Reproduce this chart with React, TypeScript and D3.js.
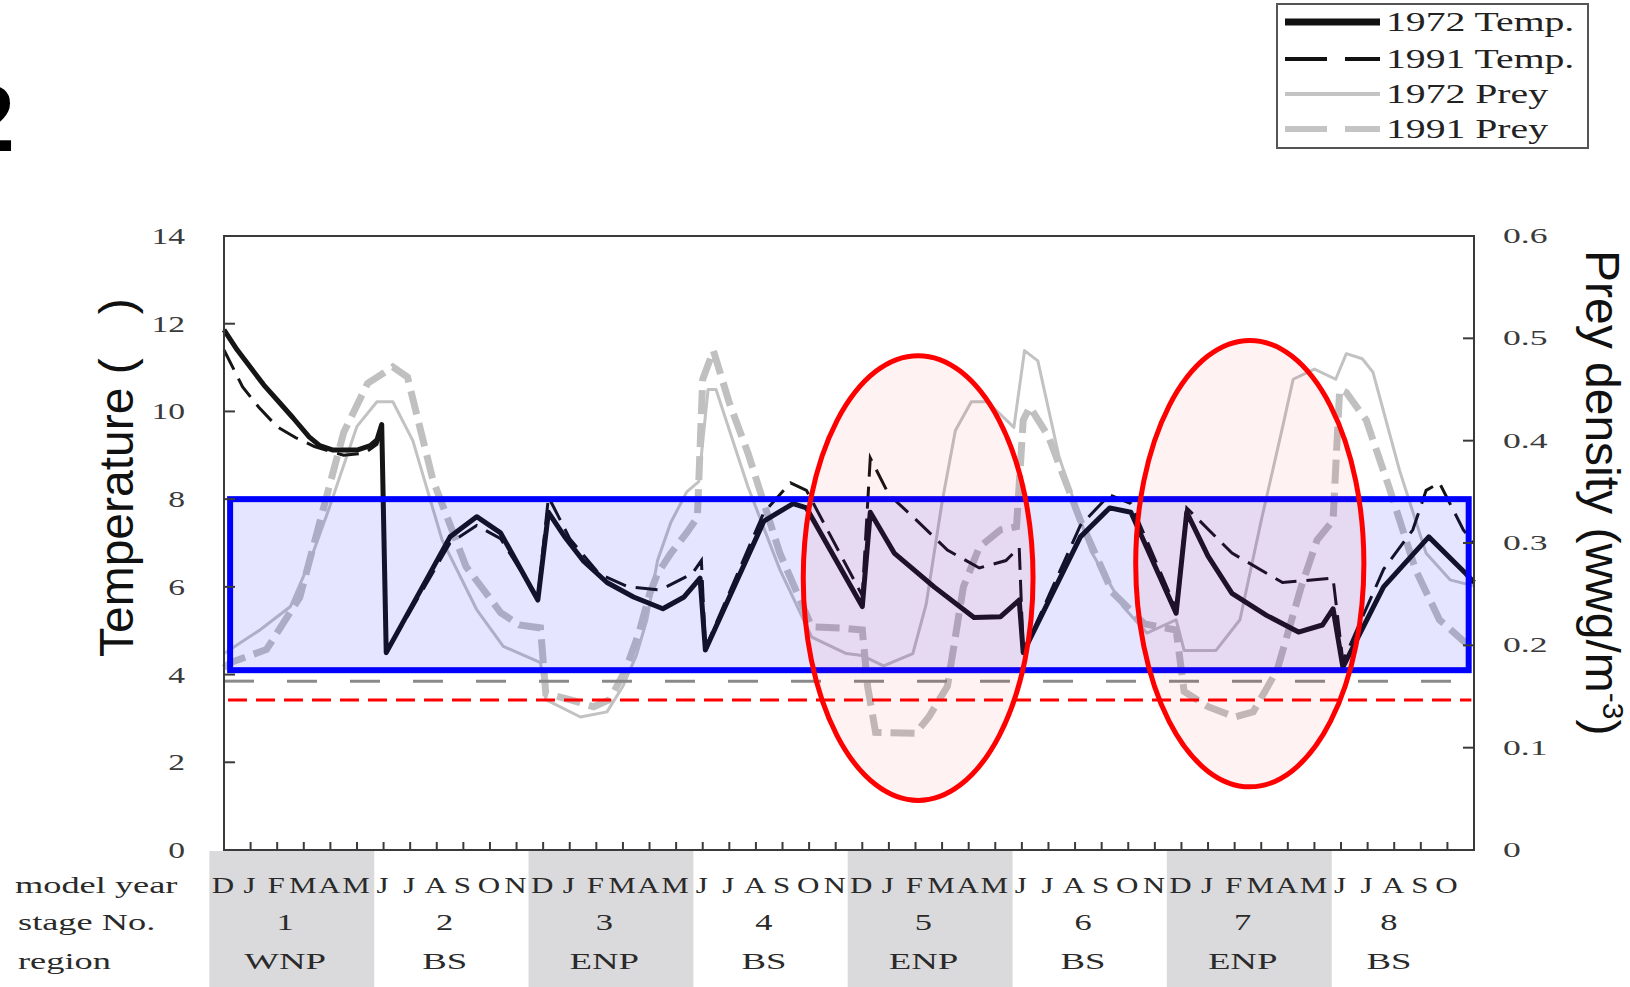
import React from 'react';
import * as d3 from 'd3';

// model months (x = month index from the first December)
const monthLabels = 'D J F M A M J J A S O N D J F M A M J J A S O N D J F M A M J J A S O N D J F M A M J J A S O'.split(' ');
const stageNumbers = ['1', '2', '3', '4', '5', '6', '7', '8'];
const stageRegions = ['WNP', 'BS', 'ENP', 'BS', 'ENP', 'BS', 'ENP', 'BS'];
const stageStart = [0, 6, 12, 18, 24, 30, 36, 42];
const stageLength = [6, 6, 6, 6, 6, 6, 6, 5];

const tempTicks = [0, 2, 4, 6, 8, 10, 12, 14];
const preyTicks = [0, 0.1, 0.2, 0.3, 0.4, 0.5, 0.6];

// [month, temperature °C]
const temp1972: [number, number][] = [
  [0, 11.86], [0.5, 11.4], [1, 11.0], [1.5, 10.6], [2, 10.26], [2.6, 9.85], [3.2, 9.42], [3.6, 9.22],
  [4.1, 9.12], [5, 9.12], [5.5, 9.22], [5.75, 9.35], [5.93, 9.7], [6.1, 4.5], [8.5, 7.14], [9.5, 7.6],
  [10.4, 7.23], [11.8, 5.7], [12.2, 7.7], [12.8, 7.15], [13.5, 6.6], [14.4, 6.1], [15.4, 5.77], [16.5, 5.5],
  [17.3, 5.77], [17.9, 6.2], [18.1, 4.56], [20.3, 7.5], [21.4, 7.9], [21.9, 7.8], [24.0, 5.55], [24.3, 7.7],
  [25.2, 6.77], [26.7, 6.0], [28.2, 5.3], [29.2, 5.32], [29.9, 5.7], [30.05, 4.5], [32.2, 7.14], [33.3, 7.8],
  [34.1, 7.7], [35.8, 5.4], [36.2, 7.7], [37.0, 6.7], [37.9, 5.85], [39.2, 5.35], [40.4, 4.97], [41.3, 5.13],
  [41.7, 5.5], [42.07, 4.17], [43.6, 6.0], [45.3, 7.14], [46.7, 6.3], [47, 6.1],
];
const temp1991: [number, number][] = [
  [0, 11.4], [0.7, 10.56], [1.3, 10.1], [2, 9.65], [2.7, 9.4], [3.4, 9.2], [4.5, 9.0], [5.3, 9.05],
  [5.75, 9.25], [5.93, 9.55], [6.1, 4.5], [8.5, 7.0], [9.5, 7.4], [10.4, 7.1], [11.8, 5.75], [12.2, 8.05],
  [13.0, 7.1], [14.1, 6.3], [15.2, 6.0], [16.4, 5.93], [17.6, 6.3], [17.95, 6.6], [18.1, 4.6], [20.3, 7.7],
  [21.3, 8.37], [21.9, 8.2], [24.0, 5.8], [24.3, 8.94], [25.0, 8.1], [25.9, 7.6], [27.2, 6.84], [28.4, 6.43],
  [29.4, 6.6], [29.9, 6.9], [30.05, 4.5], [32.2, 7.4], [33.3, 8.1], [34.1, 7.9], [35.8, 5.5], [36.2, 7.8],
  [37.9, 6.77], [39.8, 6.1], [41.7, 6.2], [42.07, 4.3], [43.6, 6.4], [44.7, 7.3], [45.2, 8.2], [45.7, 8.37],
  [46.6, 7.3], [47, 7.0],
];
// [month, prey density]
const prey1972: [number, number][] = [
  [0, 0.192], [1.35, 0.215], [2.5, 0.238], [3.2, 0.28], [3.9, 0.33], [5, 0.414], [5.75, 0.438], [6.35, 0.438],
  [7.1, 0.4], [8.2, 0.303], [9.5, 0.235], [10.5, 0.199], [11.9, 0.183], [12.1, 0.147], [13.4, 0.13], [14.4, 0.135],
  [15.0, 0.16], [15.5, 0.19], [15.9, 0.225], [16.3, 0.283], [16.8, 0.32], [17.4, 0.35], [17.85, 0.36], [18.2, 0.45],
  [18.5, 0.45], [19.7, 0.355], [20.9, 0.274], [22.1, 0.208], [23.4, 0.192], [24.0, 0.19], [24.8, 0.18], [25.9, 0.192],
  [26.4, 0.24], [27.0, 0.34], [27.5, 0.41], [28.1, 0.438], [28.7, 0.438], [29.7, 0.413], [30.1, 0.488], [30.6, 0.478],
  [31.4, 0.384], [32.6, 0.292], [33.8, 0.238], [34.7, 0.212], [35.8, 0.225], [36.1, 0.195], [37.3, 0.195], [38.2, 0.225],
  [39.0, 0.322], [39.8, 0.413], [40.2, 0.46], [41.0, 0.47], [41.8, 0.46], [42.2, 0.485], [42.8, 0.48], [43.2, 0.467],
  [44.2, 0.371], [45.2, 0.29], [46.1, 0.264], [47, 0.258],
];
const prey1991: [number, number][] = [
  [0, 0.178], [0.23, 0.183], [1.6, 0.196], [2.85, 0.247], [3.7, 0.33], [4.5, 0.408], [5.4, 0.456], [6.35, 0.472],
  [6.9, 0.462], [7.85, 0.362], [9.1, 0.277], [10.4, 0.232], [11.1, 0.22], [11.9, 0.217], [12.1, 0.153], [13.0, 0.147],
  [13.9, 0.14], [14.5, 0.147], [15.1, 0.176], [15.6, 0.212], [16.0, 0.25], [16.3, 0.27], [16.8, 0.29], [17.4, 0.31],
  [17.8, 0.325], [18.0, 0.46], [18.4, 0.488], [19.0, 0.437], [19.7, 0.388], [20.9, 0.29], [22.1, 0.218], [23.2, 0.217],
  [24.0, 0.215], [24.2, 0.16], [24.5, 0.115], [26.0, 0.114], [26.5, 0.13], [27.2, 0.16], [27.8, 0.257], [28.4, 0.296],
  [29.2, 0.313], [29.8, 0.316], [30.05, 0.42], [30.3, 0.433], [31.0, 0.404], [32.2, 0.322], [33.4, 0.252], [34.6, 0.221],
  [35.8, 0.215], [36.1, 0.155], [37.0, 0.14], [38.0, 0.13], [38.7, 0.135], [39.6, 0.176], [40.5, 0.257], [41.1, 0.303],
  [41.7, 0.322], [41.95, 0.45], [42.2, 0.447], [42.95, 0.42], [43.8, 0.355], [44.8, 0.274], [45.7, 0.225], [46.7, 0.202],
  [47, 0.2],
];

// annotations
const optimalTemp = [4.1, 8]; // blue band
const preyThreshold = 0.165; // gray dashed
const tempLimit = 3.42; // red dashed
const highlights = [
  {month: 26.1, temp: 6.2, rxMonths: 4.32, ryTemp: 5.07},
  {month: 38.57, temp: 6.53, rxMonths: 4.29, ryTemp: 5.09},
];

const serif = '"Liberation Serif", "Times New Roman", serif';
const sans = '"Liberation Sans", Arial, sans-serif';

// stretched serif text, like the original scanned figure
const SText = ({x, y, size, sx, anchor = 'start', fill = '#2a2a2a', children}: any) => (
  <text
    transform={`translate(${x},${y}) scale(${sx},1)`}
    fontSize={size}
    fontFamily={serif}
    textAnchor={anchor}
    fill={fill}>
    {children}
  </text>
);

const App: React.FC = () => {
  const width = 1630;
  const height = 987;
  const x = d3.scaleLinear().domain([0, 47]).range([224, 1474]);
  const yT = d3.scaleLinear().domain([0, 14]).range([850, 236]);
  const yP = d3.scaleLinear().domain([0, 0.6]).range([850, 236]);

  const tLine = d3.line<[number, number]>().x((d) => x(d[0])).y((d) => yT(d[1]));
  const pLine = d3.line<[number, number]>().x((d) => x(d[0])).y((d) => yP(d[1]));

  const legendRows = [
    {label: '1972 Temp.', stroke: '#111', w: 7, dash: 'none'},
    {label: '1991 Temp.', stroke: '#111', w: 4, dash: '42 18'},
    {label: '1972 Prey', stroke: '#c4c4c4', w: 4, dash: 'none'},
    {label: '1991 Prey', stroke: '#c4c4c4', w: 6, dash: '42 18'},
  ];
  const legendY = [22, 59, 94, 129];

  return (
    <svg
      width={width}
      height={height}
      style={{position: 'absolute', left: 0, top: 0, display: 'block', background: '#fff'}}>
      {/* figure number */}
      <text x={-38} y={151} fontSize={95} fontWeight="bold" fontFamily={sans} fill="#000">2</text>

      {/* legend */}
      <rect x={1277} y={4} width={311} height={144} fill="#fff" stroke="#555" strokeWidth={2} />
      {legendRows.map((r, i) => (
        <g key={r.label}>
          <line x1={1285} x2={1380} y1={legendY[i]} y2={legendY[i]} stroke={r.stroke} strokeWidth={r.w} strokeDasharray={r.dash} />
          <SText x={1386} y={legendY[i] + 9} size={27} sx={1.47} fill="#222">{r.label}</SText>
        </g>
      ))}

      {/* shaded stages under the axis */}
      {stageStart.map((s, i) =>
        i % 2 === 0 ? (
          <rect key={'band' + i} x={x(s - 0.55)} y={851} width={x(s + 5.65) - x(s - 0.55)} height={height - 851} fill="#dadadc" />
        ) : null,
      )}

      {/* series */}
      <path d={pLine(prey1972)} fill="none" stroke="#c2c2c2" strokeWidth={3} strokeLinejoin="round" />
      <path d={pLine(prey1991)} fill="none" stroke="#c0c0c0" strokeWidth={7} strokeDasharray="24 9" />
      <path d={tLine(temp1991)} fill="none" stroke="#151515" strokeWidth={3} strokeDasharray="22 10" />
      <path d={tLine(temp1972)} fill="none" stroke="#151515" strokeWidth={5} strokeLinejoin="round" />

      {/* optimal temperature band */}
      <rect
        x={x(0.23)}
        y={yT(optimalTemp[1])}
        width={x(46.8) - x(0.23)}
        height={yT(optimalTemp[0]) - yT(optimalTemp[1])}
        fill="rgba(0,0,255,0.1)"
        stroke="#0000ff"
        strokeWidth={6}
      />
      <line x1={x(0)} x2={x(47)} y1={yP(preyThreshold)} y2={yP(preyThreshold)} stroke="#8a8a8a" strokeWidth={3} strokeDasharray="30 33" />
      <line x1={x(0.15)} x2={x(46.9)} y1={yT(tempLimit)} y2={yT(tempLimit)} stroke="#ff0000" strokeWidth={3} strokeDasharray="19 9" />

      {/* highlighted winters */}
      {highlights.map((h, i) => (
        <ellipse
          key={'hl' + i}
          cx={x(h.month)}
          cy={yT(h.temp)}
          rx={x(h.rxMonths) - x(0)}
          ry={yT(0) - yT(h.ryTemp)}
          fill="rgba(255,0,0,0.05)"
          stroke="#ff0000"
          strokeWidth={5}
        />
      ))}

      {/* frame and axes */}
      <rect x={x(0)} y={yT(14)} width={x(47) - x(0)} height={yT(0) - yT(14)} fill="none" stroke="#3a3a3a" strokeWidth={2} />
      {tempTicks.slice(1, -1).map((t) => (
        <line key={'lt' + t} x1={x(0)} x2={x(0) + 11} y1={yT(t)} y2={yT(t)} stroke="#3a3a3a" strokeWidth={2} />
      ))}
      {preyTicks.slice(1, -1).map((p) => (
        <line key={'rt' + p} x1={x(47)} x2={x(47) - 11} y1={yP(p)} y2={yP(p)} stroke="#3a3a3a" strokeWidth={2} />
      ))}
      {d3.range(1, 47).map((k) => (
        <line key={'bt' + k} x1={x(k)} x2={x(k)} y1={yT(0)} y2={yT(0) - 8} stroke="#3a3a3a" strokeWidth={2} />
      ))}
      {tempTicks.map((t) => (
        <SText key={'tl' + t} x={185} y={yT(t) + 8} size={24} sx={1.4} anchor="end" fill="#3a3a3a">{t}</SText>
      ))}
      {preyTicks.map((p) => (
        <SText key={'pl' + p} x={1503} y={yP(p) + 7} size={21} sx={1.7} fill="#3a3a3a">{p === 0 ? '0' : p.toFixed(1)}</SText>
      ))}

      {/* axis titles */}
      <text transform="translate(133,657) rotate(-90)" fontSize={48} fontFamily={sans} fill="#111">
        Temperature (<tspan dx={44}>)</tspan>
      </text>
      <text transform="translate(1586,250) rotate(90)" fontSize={48} fontFamily={sans} fill="#111">
        Prey density (wwg/m
        <tspan fontSize={30} dy={-17}>-3</tspan>
        <tspan dy={17}>)</tspan>
      </text>

      {/* bottom rows */}
      <SText x={15} y={893} size={23} sx={1.58} fill="#2a2a2a">model year</SText>
      <SText x={18} y={930} size={23} sx={1.58} fill="#2a2a2a">stage No.</SText>
      <SText x={18} y={969} size={23} sx={1.58} fill="#2a2a2a">region</SText>
      {monthLabels.map((m, k) => (
        <SText key={'m' + k} x={x(k) - 1} y={893} size={23} sx={1.35} anchor="middle">{m}</SText>
      ))}
      {stageNumbers.map((s, i) => (
        <SText key={'s' + i} x={x(stageStart[i] + (stageLength[i] - 1) / 2 - 0.2)} y={930} size={23} sx={1.5} anchor="middle">{s}</SText>
      ))}
      {stageRegions.map((r, i) => (
        <SText key={'r' + i} x={x(stageStart[i] + (stageLength[i] - 1) / 2 - 0.2)} y={969} size={23} sx={1.6} anchor="middle">{r}</SText>
      ))}
    </svg>
  );
};

export default App;
